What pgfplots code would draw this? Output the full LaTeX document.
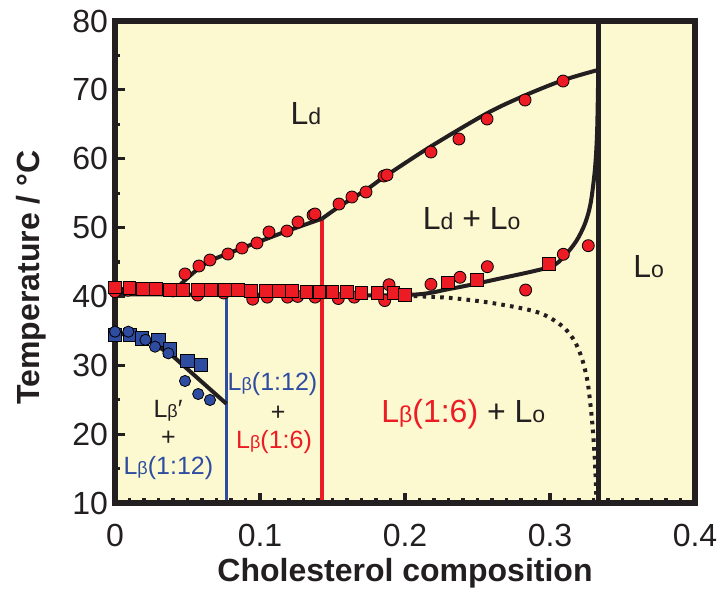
\documentclass[border=0pt]{standalone}
\usepackage{fontspec}
\setmainfont{Liberation Sans}
\usepackage{graphicx}
\usepackage{pgfplots}
\pgfplotsset{compat=1.18}

\definecolor{bg}{RGB}{252,248,208}
\definecolor{cred}{RGB}{237,28,36}
\definecolor{cblue}{RGB}{46,76,160}
\definecolor{cblk}{RGB}{35,31,32}

\newcommand{\sub}[1]{\scalebox{0.72}{#1}}

\begin{document}
\begin{tikzpicture}
\begin{axis}[
    at={(0,0)}, anchor=south west,
    scale only axis, width=290pt, height=241pt,
    xmin=0, xmax=0.4, ymin=10, ymax=80,
    xtick={0,0.1,0.2,0.3,0.4},
    ytick={10,20,30,40,50,60,70,80},
    minor x tick num=9, minor y tick num=1,
    tick align=inside, tick pos=left,
    major tick length=4.8pt, minor tick length=2.4pt,
    every tick/.style={cblk, line width=1.6pt},
    axis line style={cblk, line width=2.6pt},
    axis background/.style={fill=bg},
    /pgf/number format/assume math mode=true,
    ticklabel style={font=\fontsize{16}{16}\selectfont, text=cblk},
    xticklabel style={yshift=-7pt},
    xlabel={Cholesterol composition},
    ylabel={Temperature / °C},
    label style={font=\fontsize{16}{16}\selectfont\bfseries, text=cblk},
    ylabel style={at={(ticklabel cs:0.468)}},
    xlabel shift=-1pt, ylabel shift=6pt,
    clip=false,
]
% phase boundaries at fixed composition
\addplot[cblk, line width=2.5pt] coordinates {(0.3333,10) (0.3333,80)};
\addplot[cblue, line width=1.9pt] coordinates {(0.0769,10) (0.0769,40.0)};
\addplot[cred, line width=1.9pt] coordinates {(0.1429,10) (0.1429,51.3)};

% upper boundary (Ld / Ld+Lo)
\addplot[cblk, line width=2pt, smooth] coordinates {
    (0.040,40.5) (0.046,41.9) (0.055,43.6) (0.065,45.1) (0.080,46.4)
    (0.100,48.0) (0.120,49.6) (0.1429,51.3)
};
\addplot[cblk, line width=2pt, smooth] coordinates {
    (0.1429,51.3) (0.155,53.1) (0.174,55.6) (0.186,57.4) (0.218,61.8)
    (0.2566,66.6) (0.2828,69.2) (0.309,71.4) (0.3333,72.9)
};
% lower boundary
\addplot[cblk, line width=2pt, smooth] coordinates {
    (0,40.3) (0.1,40.25) (0.2,40.2) (0.231,41.1) (0.2655,42.6) (0.300,44.3)
    (0.310,45.9) (0.318,48.0) (0.324,50.5) (0.328,53.5) (0.331,58.5)
    (0.3325,64.0) (0.3333,72.9)
};
% dotted boundary
\addplot[cblk, line width=2pt, smooth, dash pattern=on 1.8pt off 2.6pt] coordinates {
    (0.2,40.1) (0.23,39.8) (0.255,39.2) (0.275,38.5) (0.29,37.8) (0.30,36.9)
    (0.31,35.4) (0.317,33.5) (0.322,31.0) (0.326,27.5) (0.329,22.0)
    (0.331,16.0) (0.332,10.0)
};
% Lbeta' boundary
\addplot[cblk, line width=2pt] coordinates {
    (0,34.7) (0.02,34.0) (0.039,31.5) (0.0769,24.4)
};

% red circles
\addplot[only marks, mark=*, mark size=3.0pt, mark options={draw=none, fill=cred}] coordinates {
    (0.0483,43.26) (0.0579,44.42) (0.0655,45.29) (0.0779,46.16) (0.0876,47.03)
    (0.0979,47.76) (0.1062,49.36) (0.1186,49.50) (0.1262,50.81) (0.1366,51.82)
    (0.1379,51.97) (0.1545,53.42) (0.1634,54.44) (0.1731,55.17) (0.1855,57.49)
    (0.1876,57.63) (0.2179,60.97) (0.2372,62.86) (0.2566,65.77) (0.2828,68.52)
    (0.3090,71.28)
    (0.000,40.7) (0.009,40.9) (0.040,40.8) (0.057,40.2) (0.075,40.5)
    (0.095,39.6) (0.105,39.9) (0.119,39.9) (0.126,40.0) (0.138,39.9)
    (0.154,39.7) (0.165,39.9) (0.186,39.4) (0.189,41.7)
    (0.2179,41.76) (0.2379,42.78) (0.2568,44.32) (0.2832,40.93)
    (0.3092,46.12) (0.3264,47.37)
};
% red squares
\addplot[only marks, mark=square*, mark size=3.2pt, mark options={draw=none, fill=cred}] coordinates {
    (0.000,41.3) (0.010,41.2) (0.019,41.1) (0.028,41.1) (0.038,41.0)
    (0.047,41.0) (0.057,41.0) (0.066,41.0) (0.076,40.9) (0.085,40.9)
    (0.094,40.8) (0.104,40.8) (0.113,40.8) (0.122,40.8) (0.132,40.7)
    (0.141,40.7) (0.150,40.6) (0.160,40.6) (0.170,40.5) (0.181,40.5)
    (0.192,40.5) (0.200,40.2)
    (0.2297,42.05) (0.2494,42.38) (0.2995,44.71)
};
% blue squares
\addplot[only marks, mark=square*, mark size=3.3pt, mark options={draw=none, fill=cblue}] coordinates {
    (0.000,34.4) (0.0103,34.4) (0.0184,33.9) (0.0299,33.67) (0.0379,32.32)
    (0.0499,30.62) (0.0591,30.04)
};
% blue circles
\addplot[only marks, mark=*, mark size=2.8pt, mark options={draw=none, fill=cblue}] coordinates {
    (0.000,34.88) (0.0092,34.88) (0.021,33.7) (0.0276,32.7) (0.0368,31.74)
    (0.0483,27.72) (0.0574,25.83) (0.0655,24.96)
};

% region labels
\begin{scope}[every node/.style={font=\fontsize{16}{16}\selectfont, text=cblk, inner sep=0pt}]
\node[anchor=base] at (axis cs:0.1317,64.9) {L\sub{d}};
\node[anchor=base] at (axis cs:0.246,49.75) {L\sub{d} + L\sub{o}};
\node[anchor=base] at (axis cs:0.368,42.78) {L\sub{o}};
\node[anchor=base] at (axis cs:0.2402,21.66) {\textcolor{cred}{L\sub{β}(1:6)} + L\sub{o}};
\end{scope}
\begin{scope}[every node/.style={font=\fontsize{12.5}{12.5}\selectfont, text=cblk, inner sep=0pt}]
\node[anchor=base, text=cblue] at (axis cs:0.1086,26.3) {L\sub{β}(1:12)};
\node at (axis cs:0.1126,23.0) {+};
\node[anchor=base, text=cred] at (axis cs:0.1097,17.94) {L\sub{β}(1:6)};
\node[anchor=base] at (axis cs:0.0366,22.44) {L\sub{β}′};
\node at (axis cs:0.0368,19.4) {+};
\node[anchor=base, text=cblue] at (axis cs:0.0368,14.07) {L\sub{β}(1:12)};
\end{scope}
% heavy frame on top
\draw[cblk, line width=2.6pt] (rel axis cs:0,0) rectangle (rel axis cs:1,1);
\end{axis}
\pgfresetboundingbox
\path[use as bounding box] (-57.5pt,-43pt) rectangle (303.5pt,251.5pt);
\end{tikzpicture}
\end{document}
